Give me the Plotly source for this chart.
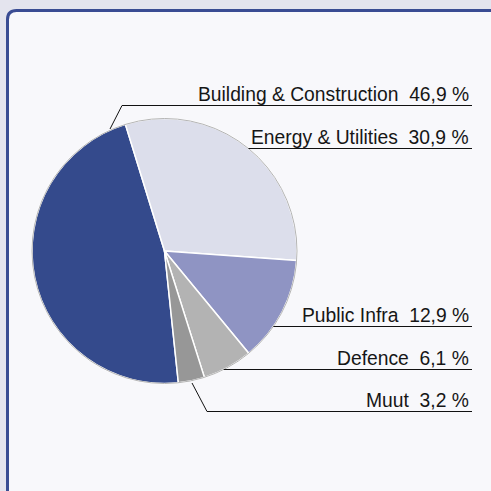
import math
import plotly.graph_objects as go

W = H = 491

# data
labels = ["Building & Construction", "Energy & Utilities", "Public Infra", "Defence", "Muut"]
shares = [46.9, 30.9, 12.9, 6.1, 3.2]
colors = ["#344a8c", "#dcdeeb", "#8f94c3", "#b3b3b3", "#979797"]

# pie geometry in pixels
cx, cy, r = 164.5, 251.0, 132.5
label_right = 471
label_y = [105.5, 148.5, 326.5, 369.5, 411.5]  # underline rows (half px = crisp)
leader_to = {0: (110, 129), 4: (192, 383)}     # slanted leader ends on the pie edge
line_start = {0: 122, 4: 207}


def px(x):
    return x / W


def py(y):
    return 1 - y / H


def fmt(v):
    return f"{v:.1f}".replace(".", ",") + " %"


fig = go.Figure()
fig.add_trace(go.Pie(
    labels=labels,
    values=shares,
    sort=False,
    direction="clockwise",
    rotation=174,
    marker=dict(colors=colors, line=dict(color="white", width=1.5)),
    textinfo="none",
    hoverinfo="label+percent",
    showlegend=False,
    domain=dict(x=[px(cx - r), px(cx + r)], y=[py(cy + r), py(cy - r)]),
))

shapes = []
# frame
x0, y0, rad = 7.5, 10.5, 9
x1, y1 = 520, 520
shapes.append(dict(
    type="path", xref="paper", yref="paper", layer="below",
    path=(f"M {px(x0)},{py(y1)} L {px(x0)},{py(y0 + rad)} "
          f"Q {px(x0)},{py(y0)} {px(x0 + rad)},{py(y0)} L {px(x1)},{py(y0)} "
          f"L {px(x1)},{py(y1)} Z"),
    fillcolor="#f8f8fb", line=dict(color="#3a4c93", width=3),
))
# thin grey rim round the pie
shapes.append(dict(
    type="circle", xref="paper", yref="paper", layer="above",
    x0=px(cx - r), x1=px(cx + r), y0=py(cy + r), y1=py(cy - r),
    line=dict(color="#b4b4b4", width=1),
))

annotations = []
for i, (lab, v) in enumerate(zip(labels, shares)):
    yl = label_y[i]
    if i in line_start:
        xs = line_start[i]
        ex, ey = leader_to[i]
        shapes.append(dict(type="line", xref="paper", yref="paper",
                           x0=px(ex), y0=py(ey), x1=px(xs), y1=py(yl),
                           line=dict(color="#111111", width=1)))
    else:
        xs = cx + math.sqrt(max(r * r - (yl - cy) ** 2, 0))
    shapes.append(dict(type="line", xref="paper", yref="paper",
                       x0=px(xs), y0=py(yl), x1=px(label_right + 1), y1=py(yl),
                       line=dict(color="#111111", width=1)))
    annotations.append(dict(
        xref="paper", yref="paper", x=px(label_right), y=py(yl + 1.5),
        xanchor="right", yanchor="bottom", showarrow=False,
        text=f"{lab}&nbsp;&nbsp;{fmt(v)}",
        font=dict(size=19.3, color="#161616"),
    ))

fig.update_layout(
    width=W, height=H,
    margin=dict(l=0, r=0, t=0, b=0),
    paper_bgcolor="#e4e4ee",
    plot_bgcolor="#f8f8fb",
    font=dict(family="Liberation Sans, Arial, sans-serif"),
    shapes=shapes,
    annotations=annotations,
)

# the page body has a default 8px margin; drop it so the figure sits at 0,0
fig.write_html(
    "out.html",
    config={"displayModeBar": False},
    post_script="document.body.style.margin='0';"
                "document.body.style.background='#e4e4ee';",
)
